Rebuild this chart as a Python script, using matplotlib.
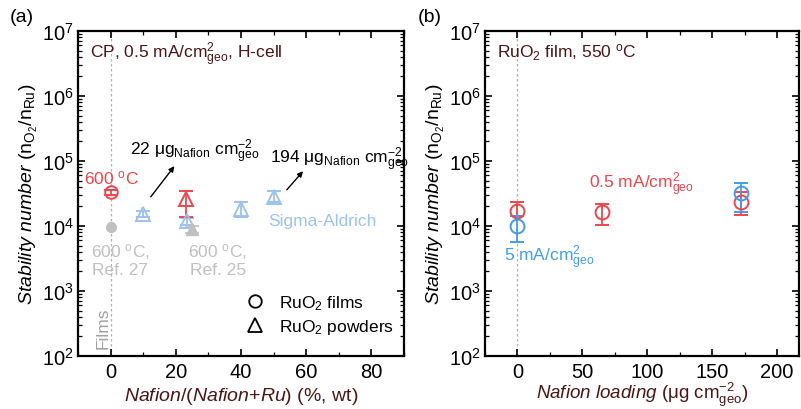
import matplotlib
matplotlib.use("Agg")
import matplotlib.pyplot as plt
from matplotlib.lines import Line2D
from matplotlib.ticker import LogLocator, MultipleLocator, NullFormatter

plt.rcParams['font.family'] = ['Liberation Sans', 'DejaVu Sans']
plt.rcParams['mathtext.fontset'] = 'custom'
plt.rcParams['mathtext.rm'] = 'Liberation Sans'
plt.rcParams['mathtext.it'] = 'Liberation Sans:italic'
plt.rcParams['mathtext.bf'] = 'Liberation Sans:bold'

# ---------------- data: panel (a) ----------------
# RuO2 film 600 C (red circle)
a_film_x = [0]
a_film_y = [3.3e4]
a_film_lo = [2.6e3]
a_film_hi = [2.6e3]
# Ref. 27 film (gray filled circle)
a_ref27_x = [0]
a_ref27_y = [9.5e3]
# Sigma-Aldrich powders (light blue triangles)
a_sa_x = [10, 23.5, 40, 50]
a_sa_y = [1.53e4, 1.2e4, 1.8e4, 2.75e4]
a_sa_lo = [1.5e3, 1.5e3, 4.0e3, 4.5e3]
a_sa_hi = [1.5e3, 1.5e3, 5.0e3, 6.5e3]
# 600 C powder (red triangle)
a_red_tri_x = [23]
a_red_tri_y = [2.6e4]
a_red_tri_lo = [1.2e4]
a_red_tri_hi = [0.9e4]
# Ref. 25 powder (gray filled triangle)
a_ref25_x = [25]
a_ref25_y = [8.9e3]
a_ref25_lo = [1.0e3]
a_ref25_hi = [1.0e3]

# ---------------- data: panel (b) ----------------
b_red_x = [0, 65, 172]
b_red_y = [1.72e4, 1.62e4, 2.37e4]
b_red_lo = [0.31e4, 0.58e4, 0.89e4]
b_red_hi = [0.60e4, 0.58e4, 0.93e4]
b_blue_x = [0, 172]
b_blue_y = [1.01e4, 3.22e4]
b_blue_lo = [0.435e4, 1.56e4]
b_blue_hi = [0.43e4, 1.38e4]

RED = '#f0444a'
LBLUE = '#9cc2ee'
BLUE = '#3f9cf2'
GRAY = '#c0c0c0'
BROWN = '#4a1616'

fig = plt.figure(figsize=(8.01, 4.10), dpi=100)
axa = fig.add_axes([78/801, 53/410, 326/801, 325/410])
axb = fig.add_axes([485/801, 53/410, 314/801, 325/410])

FS = 14.5
LFS = 14
AFS = 12.5

def style(ax, xlim, xmajor, xminor):
    ax.set_yscale('log')
    ax.set_ylim(1e2, 1e7)
    ax.set_xlim(*xlim)
    ax.xaxis.set_major_locator(MultipleLocator(xmajor))
    ax.xaxis.set_minor_locator(MultipleLocator(xminor))
    ax.yaxis.set_minor_locator(LogLocator(base=10, subs=range(2, 10), numticks=20))
    ax.yaxis.set_minor_formatter(NullFormatter())
    ax.tick_params(which='both', direction='in', top=True, right=True, labelsize=FS)
    ax.tick_params(which='major', length=5, width=1.2)
    ax.tick_params(which='minor', length=3, width=0.9)
    ax.tick_params(axis='y', which='major', pad=3)
    ax.tick_params(axis='x', which='major', pad=4)
    for s in ax.spines.values():
        s.set_linewidth(1.6)
    ax.set_yticks([1e2, 1e3, 1e4, 1e5, 1e6, 1e7])
    ax.set_yticklabels([r'10$^{%d}$' % e for e in range(2, 8)])
    ax.axvline(0, color='#b0b0b0', ls=(0, (2, 2)), lw=0.9, zorder=0)
    ax.set_ylabel(r'$\it{Stability\ number}$ (n$_{\mathrm{O_2}}$/n$_{\mathrm{Ru}}$)',
                  fontsize=LFS, labelpad=1)

style(axa, (-10, 90), 20, 10)
style(axb, (-25, 217), 50, 25)

ekw = dict(capsize=5, elinewidth=1.3, capthick=1.3, ls='none')

# panel (a)
axa.errorbar(a_film_x, a_film_y, yerr=[a_film_lo, a_film_hi], marker='o', ms=9,
             mfc='none', mec=RED, mew=1.4, color=RED, **ekw)
axa.plot(a_ref27_x, a_ref27_y, 'o', ms=7, color=GRAY)
axa.errorbar(a_sa_x, a_sa_y, yerr=[a_sa_lo, a_sa_hi], marker='^', ms=10,
             mfc='none', mec=LBLUE, mew=1.4, color=LBLUE, **ekw)
axa.errorbar(a_red_tri_x, a_red_tri_y, yerr=[a_red_tri_lo, a_red_tri_hi], marker='^', ms=10,
             mfc='none', mec=RED, mew=1.4, color=RED, **ekw)
axa.errorbar(a_ref25_x, a_ref25_y, yerr=[a_ref25_lo, a_ref25_hi], marker='^', ms=8,
             color=GRAY, mec=GRAY, **ekw)

axa.set_xlabel(r'$\it{Nafion/(Nafion{+}Ru)}$ (%, wt)', fontsize=LFS, color=BROWN,
               va='baseline')
axa.xaxis.set_label_coords(0.5, -0.135)

T = axa.transAxes
axa.text(0.037, 0.929, r'CP, 0.5 mA/cm$^{2}_{\mathrm{geo}}$, H-cell', transform=T,
         fontsize=AFS, color=BROWN, va='center', ha='left')
axa.text(0.104, 0.551, r'600 $^{\mathrm{o}}$C', transform=T, fontsize=AFS, color=RED,
         ha='center', va='center')
axa.text(0.16, 0.631, r'22 μg$_{\mathrm{Nafion}}$ cm$^{-2}_{\mathrm{geo}}$', transform=T,
         fontsize=AFS, color='black', ha='left', va='center')
axa.text(0.589, 0.606, r'194 μg$_{\mathrm{Nafion}}$ cm$^{-2}_{\mathrm{geo}}$', transform=T,
         fontsize=AFS, color='black', ha='left', va='center')
axa.annotate('', xy=(0.301, 0.591), xytext=(0.218, 0.483), xycoords=T, textcoords=T,
             arrowprops=dict(arrowstyle='-|>', lw=1.0, color='black', mutation_scale=8))
axa.annotate('', xy=(0.696, 0.575), xytext=(0.635, 0.505), xycoords=T, textcoords=T,
             arrowprops=dict(arrowstyle='-|>', lw=1.0, color='black', mutation_scale=8))
axa.text(0.583, 0.418, 'Sigma-Aldrich', transform=T, fontsize=AFS, color=LBLUE,
         ha='left', va='center')
axa.text(0.129, 0.298, '600 $^{\\mathrm{o}}$C,\nRef. 27', transform=T, fontsize=AFS,
         color=GRAY, ha='center', va='center', linespacing=1.1)
axa.text(0.429, 0.298, '600 $^{\\mathrm{o}}$C,\nRef. 25', transform=T, fontsize=AFS,
         color=GRAY, ha='center', va='center', linespacing=1.1)
axa.text(0.077, 0.089, 'Films', transform=T, fontsize=AFS, color='#a0a0a0',
         rotation=90, ha='center', va='center')

handles = [Line2D([], [], ls='none', marker='o', ms=9, mfc='none', mec='black', mew=1.3),
           Line2D([], [], ls='none', marker='^', ms=10, mfc='none', mec='black', mew=1.3)]
axa.legend(handles, [r'RuO$_2$ films', r'RuO$_2$ powders'], loc='lower right',
           bbox_to_anchor=(1.0, 0.03), frameon=False, fontsize=AFS, handletextpad=0.6,
           labelspacing=0.3, handlelength=1.5, borderaxespad=0.2)

# panel (b)
axb.errorbar(b_red_x, b_red_y, yerr=[b_red_lo, b_red_hi], marker='o', ms=10,
             mfc='none', mec=RED, mew=1.4, color=RED, **ekw)
axb.errorbar(b_blue_x, b_blue_y, yerr=[b_blue_lo, b_blue_hi], marker='o', ms=10,
             mfc='none', mec=BLUE, mew=1.4, color=BLUE, **ekw)
axb.set_xlabel(r'$\it{Nafion\ loading}$ (μg cm$^{-2}_{\mathrm{geo}}$)', fontsize=13.5,
               color=BROWN, va='baseline')
axb.xaxis.set_label_coords(0.5, -0.13)
Tb = axb.transAxes
axb.text(0.038, 0.935, r'RuO$_2$ film, 550 $^{\mathrm{o}}$C', transform=Tb, fontsize=AFS,
         color=BROWN, ha='left', va='center')
axb.text(0.331, 0.529, r'0.5 mA/cm$^{2}_{\mathrm{geo}}$', transform=Tb, fontsize=AFS,
         color=RED, ha='left', va='center')
axb.text(0.061, 0.305, r'5 mA/cm$^{2}_{\mathrm{geo}}$', transform=Tb, fontsize=AFS,
         color=BLUE, ha='left', va='center')

fig.text(10/801, 1 - 18/410, '(a)', fontsize=14, ha='left', va='center')
fig.text(418/801, 1 - 18/410, '(b)', fontsize=14, ha='left', va='center')

fig.savefig('out.png', dpi=100)
